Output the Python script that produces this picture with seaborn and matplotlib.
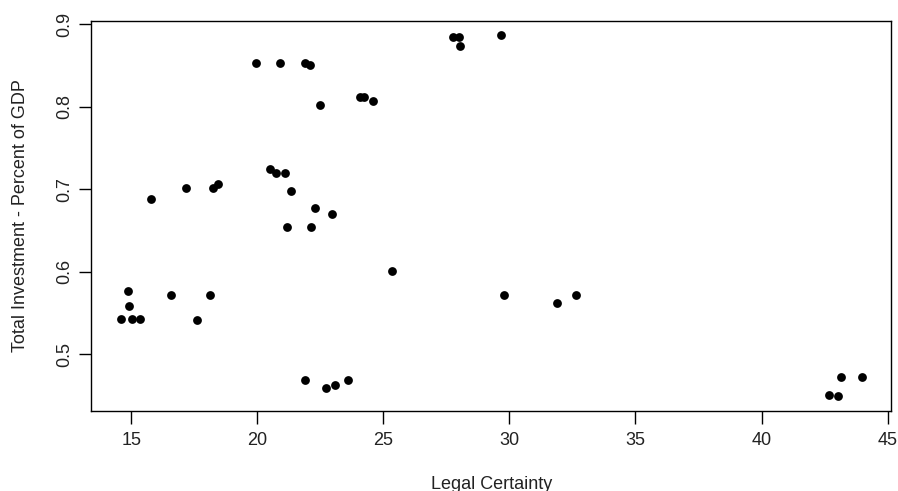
import numpy as np
import pandas as pd
import matplotlib
matplotlib.use("Agg")
import matplotlib.pyplot as plt
import seaborn as sns

# Legal certainty score vs. total investment share of GDP
legal_certainty = [
    19.93, 20.91, 20.52, 20.73, 21.11, 21.35, 21.16, 15.77, 17.17, 18.23, 18.44,
    21.88, 22.10, 22.47, 24.08, 24.24, 24.60, 27.78, 27.99, 28.05, 29.66,
    22.27, 22.95, 22.14,
    14.89, 14.93, 14.58, 15.05, 15.35, 16.58, 17.61, 18.14,
    21.89, 22.74, 23.08, 23.58, 25.33, 29.79,
    31.90, 32.63, 42.66, 43.04, 43.17, 43.97,
]
total_investment = [
    0.853, 0.853, 0.724, 0.720, 0.720, 0.698, 0.654, 0.6885, 0.7015, 0.7015, 0.7067,
    0.853, 0.850, 0.802, 0.8113, 0.8113, 0.8073, 0.8843, 0.8843, 0.8738, 0.8867,
    0.6771, 0.6695, 0.6537,
    0.5765, 0.5583, 0.5429, 0.5429, 0.5429, 0.5713, 0.5417, 0.5713,
    0.4687, 0.4598, 0.4634, 0.4687, 0.6013, 0.5713,
    0.5624, 0.5717, 0.4505, 0.4492, 0.4727, 0.4727,
]
x_ticks = [15, 20, 25, 30, 35, 40, 45]
y_ticks = [0.5, 0.6, 0.7, 0.8, 0.9]

df = pd.DataFrame({"Legal Certainty": legal_certainty,
                   "Total Investment": total_investment})

sns.set_style("white")
plt.rcParams["font.family"] = ["Liberation Sans", "DejaVu Sans"]

fig = plt.figure(figsize=(8.98, 4.91), dpi=100)
ax = fig.add_axes([91 / 898, 1 - 410.7 / 491, 800.3 / 898, 390 / 491])

sns.scatterplot(data=df, x="Legal Certainty", y="Total Investment", ax=ax,
                color="black", s=40, linewidth=0, marker="o")

# 4% padding on each side of the data range
def padded(vals):
    lo, hi = min(vals), max(vals)
    r = hi - lo
    return lo - 0.04 * r, hi + 0.04 * r

ax.set_xlim(*padded(legal_certainty))
ax.set_ylim(*padded(total_investment))

ax.set_xticks(x_ticks)
ax.set_yticks(y_ticks)
ax.set_xticklabels([str(t) for t in x_ticks])
ax.set_yticklabels([f"{t:.1f}" for t in y_ticks], rotation=90, va="center")

for sp in ax.spines.values():
    sp.set_color("black")
    sp.set_linewidth(1.0)

ax.tick_params(axis="both", direction="out", length=9, width=1.0,
               color="black", labelsize=13, labelcolor="#222222",
               bottom=True, left=True)
ax.tick_params(axis="x", pad=6)
ax.tick_params(axis="y", pad=4)

ax.set_xlabel("Legal Certainty", fontsize=13, color="#222222")
ax.set_ylabel("Total Investment - Percent of GDP", fontsize=13, color="#222222")
ax.xaxis.set_label_coords(0.5, -0.188)
ax.xaxis.label.set_va("center")
ax.yaxis.set_label_coords(-0.0887, 0.5)
ax.yaxis.label.set_va("center")

fig.savefig("out.png", dpi=100, facecolor="white")
